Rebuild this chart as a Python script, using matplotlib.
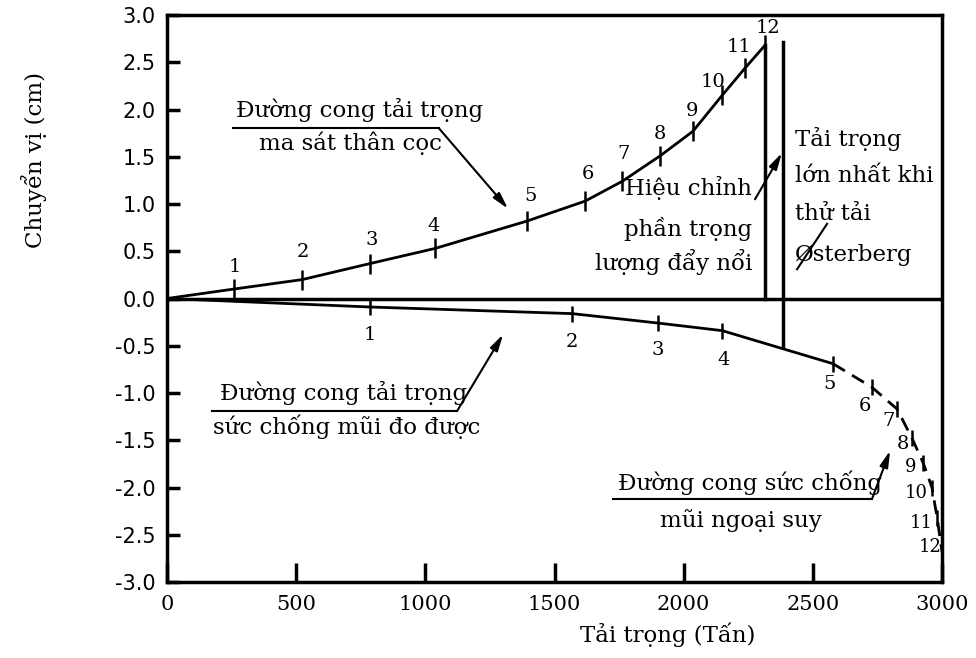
import matplotlib
matplotlib.use("Agg")
import matplotlib.pyplot as plt

plt.rcParams['axes.unicode_minus'] = False

# upper curve: load - shaft friction (points 0..12)
up_load = [0, 259, 523, 786, 1038, 1394, 1618, 1762, 1909, 2036, 2149, 2238, 2315]
up_disp = [0, 0.10, 0.20, 0.37, 0.53, 0.82, 1.03, 1.24, 1.51, 1.77, 2.15, 2.44, 2.68]

# lower curve: measured end bearing (points 0..5), extrapolated (5..12)
low_load = [0, 786, 1568, 1901, 2149, 2578, 2729, 2826, 2884, 2927, 2961, 2981, 3000]
low_disp = [0, -0.09, -0.16, -0.26, -0.34, -0.69, -0.94, -1.17, -1.48, -1.74, -2.00, -2.32, -2.68]
n_measured = 6  # start + points 1..5 drawn solid

point_labels = [str(i) for i in range(1, 13)]

# vertical lines: buoyant weight correction and max Osterberg load
corr_load, corr_top = 2315, 2.68
max_load, max_top, max_bot = 2385, 2.71, -0.50

x_ticks = [0, 500, 1000, 1500, 2000, 2500, 3000]
y_ticks = [3.0, 2.5, 2.0, 1.5, 1.0, 0.5, 0.0, -0.5, -1.0, -1.5, -2.0, -2.5, -3.0]

serif = 'DejaVu Serif'

fig = plt.figure(figsize=(9.76, 6.58), dpi=100)
ax = fig.add_axes([0.1711, 0.1155, 0.7941, 0.8617])
ax.set_xlim(0, 3000)
ax.set_ylim(-3.0, 3.0)

for s in ax.spines.values():
    s.set_linewidth(2.5)

ax.set_xticks(x_ticks)
ax.set_xticklabels([str(v) for v in x_ticks], fontfamily=serif, fontsize=15)
ax.set_yticks(y_ticks)
ax.set_yticklabels(['%.1f' % v for v in y_ticks], fontfamily='DejaVu Sans', fontsize=15)
ax.tick_params(axis='x', direction='in', length=14, width=2.5, pad=9)
ax.tick_params(axis='y', direction='in', length=9, width=2.5, pad=8)

# zero line
ax.axhline(0, color='black', lw=2.5)

# upper curve
ax.plot(up_load, up_disp, color='black', lw=2)
ax.plot(up_load[1:], up_disp[1:], ls='none', marker='|', ms=14, mew=1.8, color='black')

# lower curve
ax.plot(low_load[:n_measured], low_disp[:n_measured], color='black', lw=2)
ax.plot(low_load[n_measured - 1:], low_disp[n_measured - 1:], color='black', lw=2,
        ls=(0, (5, 3)))
ax.plot(low_load[1:], low_disp[1:], ls='none', marker='|', ms=12, mew=1.8, color='black')

# vertical lines
ax.plot([corr_load, corr_load], [0, corr_top], color='black', lw=2.5)
ax.plot([max_load, max_load], [max_bot, max_top], color='black', lw=2.5)

# point numbers
up_off = [(1, 22), (1, 28), (2, 24), (-2, 22), (3, 25), (3, 27), (1, 27), (0, 22),
          (-1, 20), (-9, 13), (-6, 21), (3, 17)]
low_off = [(0, -28), (0, -28), (0, -27), (1, -29), (-3, -20), (-7, -19), (-9, -12),
           (-9, -6), (-13, -4), (-16, -5), (-16, -5), (-12, 5)]
for i, lab in enumerate(point_labels):
    ax.annotate(lab, (up_load[i + 1], up_disp[i + 1]), xytext=up_off[i],
                textcoords='offset pixels', ha='center', va='center',
                fontfamily=serif, fontsize=14)
    ax.annotate(lab, (low_load[i + 1], low_disp[i + 1]), xytext=low_off[i],
                textcoords='offset pixels', ha='center', va='center',
                fontfamily=serif, fontsize=13 if i >= 8 else 14)

txt = dict(fontfamily=serif, fontsize=16.5, va='center')
arr = dict(arrowstyle='-|>,head_length=0.7,head_width=0.18', color='black', lw=1.5,
           shrinkA=0, shrinkB=0, mutation_scale=14)

# shaft friction label
ax.text(747, 1.99, 'Đường cong tải trọng', ha='center', **txt)
ax.text(712, 1.64, 'ma sát thân cọc', ha='center', **txt)
ax.plot([255, 1053], [1.80, 1.80], color='black', lw=1.5)
ax.annotate('', xy=(1320, 0.95), xytext=(1053, 1.80), arrowprops=arr)

# measured end bearing label
ax.text(685, -1.00, 'Đường cong tải trọng', ha='center', **txt)
ax.text(697, -1.36, 'sức chống mũi đo được', ha='center', **txt)
ax.plot([174, 1123], [-1.19, -1.19], color='black', lw=1.5)
ax.annotate('', xy=(1301, -0.38), xytext=(1123, -1.19), arrowprops=arr)

# buoyant weight correction
ax.text(2265, 1.17, 'Hiệu chỉnh', ha='right', **txt)
ax.text(2265, 0.74, 'phần trọng', ha='right', **txt)
ax.text(2265, 0.39, 'lượng đẩy nổi', ha='right', **txt)
ax.annotate('', xy=(2380, 1.54), xytext=(2276, 1.05), arrowprops=arr)

# max load
ax.text(2431, 1.69, 'Tải trọng', ha='left', **txt)
ax.text(2431, 1.30, 'lớn nhất khi', ha='left', **txt)
ax.text(2431, 0.89, 'thử tải', ha='left', **txt)
ax.text(2431, 0.46, 'Østerberg', ha='left', **txt)
ax.plot([2439, 2555], [0.31, 0.79], color='black', lw=1.5)

# extrapolated end bearing label
ax.text(2257, -1.95, 'Đường cong sức chống', ha='center', **txt)
ax.text(2222, -2.35, 'mũi ngoại suy', ha='center', **txt)
ax.plot([1726, 2729], [-2.12, -2.12], color='black', lw=1.5)
ax.annotate('', xy=(2799, -1.61), xytext=(2729, -2.12), arrowprops=arr)

fig.text(0.684, 0.035, 'Tải trọng (Tấn)', ha='center', va='center',
         fontfamily=serif, fontsize=16.5)
fig.text(0.035, 0.757, 'Chuyển vị (cm)', ha='center', va='center', rotation=90,
         fontfamily=serif, fontsize=16.5)

fig.savefig('out.png', dpi=100)
